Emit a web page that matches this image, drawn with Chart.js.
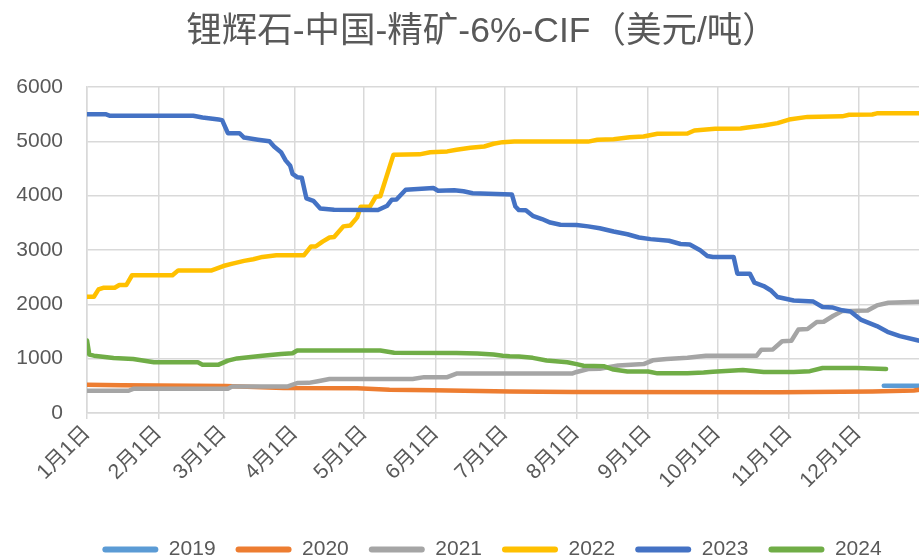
<!DOCTYPE html>
<html><head><meta charset="utf-8">
<script src="https://cdn.jsdelivr.net/npm/chart.js@4.4.1/dist/chart.umd.min.js"></script>
<style>html,body{margin:0;padding:0;overflow:hidden;background:#fff;}#wrap{width:984px;height:570px;}</style>
</head><body><div id="wrap"><canvas id="c" width="984" height="570"></canvas></div>
<script>
const titleText = '锂辉石-中国-精矿-6%-CIF（美元/吨）';
const monthLabels = ['1月1日','2月1日','3月1日','4月1日','5月1日','6月1日','7月1日','8月1日','9月1日','10月1日','11月1日','12月1日'];
const monthStartDays = [0,31,59,90,120,151,181,212,243,273,304,334];
const yTicks = [0,1000,2000,3000,4000,5000,6000];
const seriesNames = ['2019','2020','2021','2022','2023','2024'];
const seriesColors = ['#5B9BD5','#ED7D31','#A5A5A5','#FFC000','#4472C4','#70AD47'];

const days2019 = [345,364];
const price2019 = [500,500];

const days2020 = [0,15,60,85,117,131,150,183,210,300,340,358,364];
const price2020 = [520,510,495,460,455,430,420,395,385,380,395,415,445];

const days2021 = [0,18,20,61,63,87,91,96,100,105,141,146,156,160,210,212,217,222,230,241,245,251,260,268,290,292,297,301,305,308,312,316,319,323,327,338,342,347,364];
const price2021 = [410,410,445,445,490,490,550,555,585,625,625,660,660,725,725,755,810,815,875,900,970,995,1015,1055,1055,1165,1170,1320,1330,1535,1545,1675,1680,1785,1875,1885,1980,2030,2050];

const days2022 = [0,3,5,7,12,14,17,19.5,37,39.5,54,59,63,68,72,76,82,94,97,99,102,105,107,111,114,117,118.5,122.5,125,127,132.7,144,148.6,156,160,166,172,176,180,185,217,221,228,235,241,247,260,263,272,283,286,293,299,304,312,327,330,340,342,364];
const price2022 = [2140,2140,2275,2305,2305,2355,2355,2535,2535,2625,2625,2705,2750,2800,2830,2873,2905,2905,3065,3065,3155,3230,3240,3435,3450,3600,3795,3800,3980,3990,4755,4760,4800,4815,4845,4880,4905,4955,4985,4995,4995,5030,5040,5075,5090,5140,5145,5200,5230,5235,5255,5290,5335,5400,5450,5460,5490,5495,5515,5515];

const days2023 = [0,8,10,46,50,57,58.5,61,66,68,74,79,81,84,86,88,89,91,93,95,98,101,107,126,130,132,134,138,150,152,159,163,167,184,185.5,187,190,193,197,200.6,205,212,217,222,228,234,239,244,252,257,261,265.5,268.6,271,280,281.6,287,289,293,296,299,306,314.5,318.5,323,327,330.6,335,342,346.6,352,360,364];
const price2023 = [5500,5500,5470,5470,5440,5400,5390,5150,5150,5070,5030,5000,4905,4800,4650,4550,4400,4340,4330,3950,3905,3765,3740,3735,3815,3925,3930,4110,4140,4090,4100,4080,4045,4020,3800,3735,3730,3630,3570,3505,3465,3460,3435,3400,3340,3290,3230,3200,3170,3110,3100,2995,2890,2870,2870,2565,2565,2400,2337,2260,2135,2070,2050,1950,1940,1890,1870,1720,1600,1495,1415,1335,1300];

const days2024 = [0,1,3,11.5,20,29,48,50,57,61,65,76,84,89,91,127,133,160,169,176,180,183,187,193,199,208,212,215,224,228,234,243,247,260,267,271,284,293,306,313,318.5,333,346];
const price2024 = [1335,1075,1055,1012,995,935,935,890,890,965,1005,1055,1087,1100,1150,1150,1110,1105,1095,1075,1055,1045,1040,1015,965,935,900,870,860,800,765,765,730,730,745,760,790,755,755,770,828,830,810];

const seriesDays = [days2019,days2020,days2021,days2022,days2023,days2024];
const seriesPrices = [price2019,price2020,price2021,price2022,price2023,price2024];

const FONT = "'Liberation Sans','Noto Sans CJK SC',sans-serif";
const TXT = '#595959';
const GRID = '#D9D9D9';

const datasets = seriesNames.map((name,i)=>({
  label: name,
  data: seriesDays[i].map((d,k)=>({x:d,y:seriesPrices[i][k]})),
  borderColor: seriesColors[i],
  backgroundColor: seriesColors[i],
  borderWidth: 4.5,
  pointRadius: 0,
  tension: 0,
  borderCapStyle: 'round',
  borderJoinStyle: 'round',
  order: seriesNames.length - i
}));

const titlePlugin = {
  id: 'customTitle',
  afterDraw(chart){
    const ctx = chart.ctx;
    ctx.save();
    ctx.font = '35.5px ' + FONT;
    ctx.fillStyle = TXT;
    ctx.textAlign = 'center';
    ctx.textBaseline = 'middle';
    ctx.fillText(titleText, 482, 32);
    ctx.restore();
  }
};

new Chart(document.getElementById('c'), {
  type: 'line',
  data: { datasets },
  plugins: [titlePlugin],
  options: {
    responsive: false,
    animation: false,
    devicePixelRatio: 1,
    layout: { padding: { top: 87, left: 0, right: 0, bottom: 0 } },
    plugins: {
      title: { display: false },
      tooltip: { enabled: false },
      legend: {
        position: 'bottom',
        labels: {
          color: TXT,
          font: { family: FONT, size: 21 },
          boxWidth: 56,
          boxHeight: 6,
          padding: 20,
          useBorderRadius: true,
          borderRadius: 3,
          sort: (a,b)=>a.datasetIndex-b.datasetIndex,
          generateLabels(chart){
            const items = Chart.defaults.plugins.legend.labels.generateLabels(chart);
            items.forEach(it=>{ it.lineWidth = 0; it.strokeStyle = 'rgba(0,0,0,0)'; it.borderRadius = 3; });
            return items;
          }
        }
      }
    },
    scales: {
      x: {
        type: 'linear',
        min: 0,
        max: 388.4,
        afterBuildTicks(scale){ scale.ticks = monthStartDays.map(v=>({value:v})); },
        afterFit(scale){ scale.height = 106; },
        ticks: {
          color: TXT,
          font: { family: FONT, size: 21 },
          minRotation: 45,
          maxRotation: 45,
          autoSkip: false,
          padding: 2,
          callback(value){ const i = monthStartDays.indexOf(value); return i>=0 ? monthLabels[i] : ''; }
        },
        grid: { color: GRID, lineWidth: 1.5, tickLength: 6, drawTicks: true },
        border: { color: GRID, width: 1.5 }
      },
      y: {
        min: 0,
        max: 6000,
        afterBuildTicks(scale){ scale.ticks = yTicks.map(v=>({value:v})); },
        afterFit(scale){ scale.width = 87; },
        ticks: {
          color: TXT,
          font: { family: FONT, size: 21 },
          padding: 24,
          callback(value){ return String(value); }
        },
        grid: { color: GRID, lineWidth: 1.5, drawTicks: false },
        border: { color: GRID, width: 1.5 }
      }
    }
  }
});
</script>
</body></html>
